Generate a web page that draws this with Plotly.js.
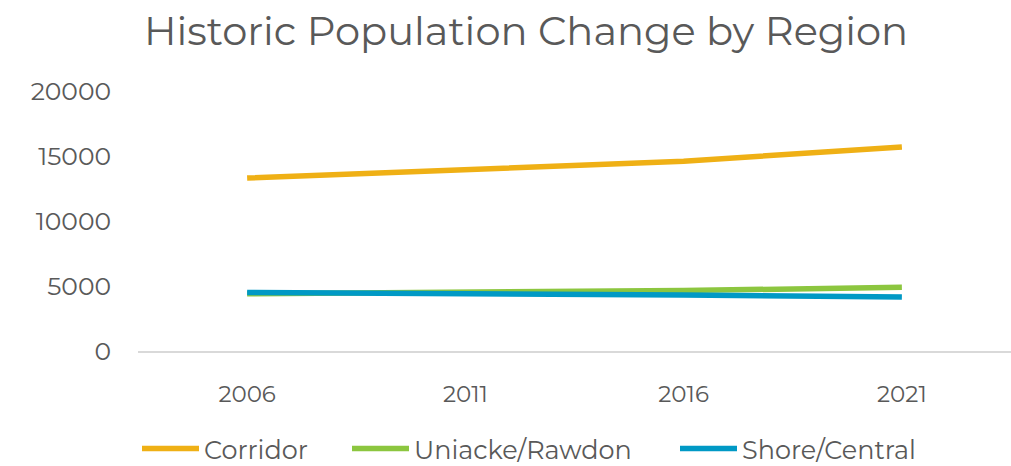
<!DOCTYPE html>
<html>
<head>
<meta charset="utf-8">
<script src="https://cdn.plot.ly/plotly-3.0.1.min.js"></script>
<style>html,body{margin:0;padding:0;background:#fff;}#chart{width:1011px;height:466px;}</style>
</head>
<body>
<div id="chart"></div>
<script>
const years = ['2006', '2011', '2016', '2021'];
const corridor = [13300, 14000, 14600, 15700];
const uniacke = [4400, 4500, 4650, 4900];
const shore = [4500, 4420, 4300, 4150];
const seriesNames = ['Corridor', 'Uniacke/Rawdon', 'Shore/Central'];
const seriesColors = ['#EFB015', '#8CC63F', '#0099C5'];
const yTicks = [0, 5000, 10000, 15000, 20000];

const FONT = 'Montserrat, "Open Sans", "Noto Sans", sans-serif';
const legendIds = ['legend', 'legend2', 'legend3'];
const data = [corridor, uniacke, shore].map((vals, i) => ({
  type: 'scatter', mode: 'lines', x: years, y: vals, name: seriesNames[i],
  line: {color: seriesColors[i], width: 5.5, shape: 'linear'}, legend: legendIds[i]
}));

const legendStarts = [142, 352, 680];
function mkLegend(px) {
  return {orientation: 'h', x: (px - 5) / 1011, xanchor: 'left', xref: 'container',
          y: 17 / 466, yref: 'container', yanchor: 'middle', bgcolor: 'rgba(0,0,0,0)',
          font: {family: FONT, size: 25.5, color: '#595959'}, itemwidth: 57, itemgap: 0};
}

const layout = {
  width: 1011, height: 466,
  margin: {l: 138, r: 0, t: 91, b: 115},
  paper_bgcolor: '#fff', plot_bgcolor: '#fff',
  title: {text: 'Historic Population Change by Region', font: {family: FONT, size: 40, color: '#595959'},
          x: 526 / 1011, xanchor: 'center', y: 1 - 31 / 466, yanchor: 'middle'},
  xaxis: {type: 'category', range: [-0.5, 3.5], showgrid: false, zeroline: false,
          showline: true, linecolor: '#d9d9d9', linewidth: 1.5, ticks: '',
          tickfont: {family: FONT, size: 23, color: '#595959'}, ticklabelstandoff: 22},
  yaxis: {range: [0, 20000], tickvals: yTicks, ticktext: yTicks.map(String), showgrid: false, zeroline: false,
          showline: false, ticks: '', tickfont: {family: FONT, size: 25, color: '#595959'}, ticklabelstandoff: 26},
  showlegend: true,
  legend: mkLegend(legendStarts[0]),
  legend2: mkLegend(legendStarts[1]),
  legend3: mkLegend(legendStarts[2])
};
Plotly.newPlot('chart', data, layout, {displayModeBar: false, staticPlot: true});
</script>
</body>
</html>
